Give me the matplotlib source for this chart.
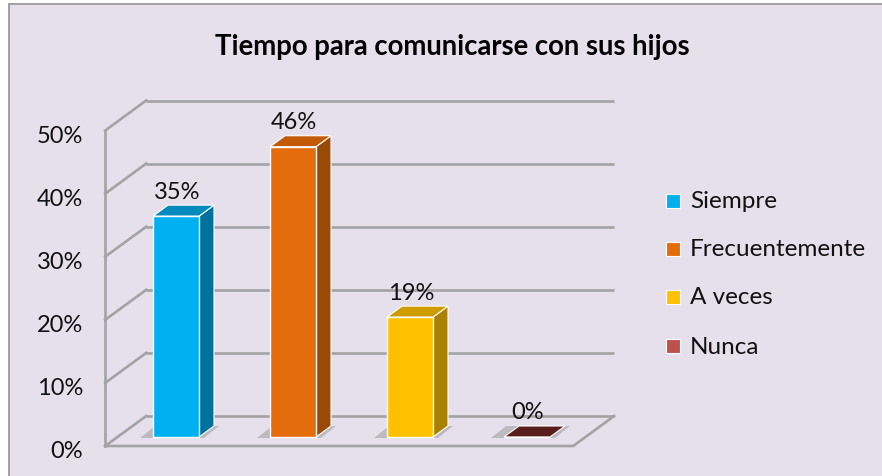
import matplotlib
matplotlib.use("Agg")
import matplotlib.pyplot as plt
from matplotlib.patches import Polygon, Rectangle
from matplotlib.lines import Line2D

# ---- data ----
categories = ["Siempre", "Frecuentemente", "A veces", "Nunca"]
values = [35, 46, 19, 0]
value_labels = ["35%", "46%", "19%", "0%"]
tick_values = [0, 10, 20, 30, 40, 50]
tick_labels = ["0%", "10%", "20%", "30%", "40%", "50%"]
title = "Tiempo para comunicarse con sus hijos"

front_colors = ["#00b0f0", "#e46c0a", "#ffc000", "#c0504d"]
side_colors = ["#00719c", "#994a06", "#a98000", "#5a1e1e"]
top_colors = ["#0089bd", "#c25a08", "#cf9c00", "#5a1e1e"]

W, H = 882, 477
fig = plt.figure(figsize=(W / 100, H / 100), dpi=100)
fig.patch.set_facecolor("white")
plt.rcParams["font.family"] = ["Lato", "DejaVu Sans"]

# chart area background + border
bg = Rectangle((9 / W, -0.05), 1.1, 1 - 5 / H + 0.05, transform=fig.transFigure,
               facecolor="#e5e0ec", edgecolor="#a0a0a0", lw=1.4, zorder=-5)
fig.patches.append(bg)

# axes mapping: x in category units, y in percent (bar plane)
px_cat = 117.0
px_pct = 6.31
x0_px, y0_px = 176.0, 438.0
ax = fig.add_axes([0, 0, 1, 1])
ax.set_zorder(1)
ax.set_xlim(-x0_px / px_cat, (W - x0_px) / px_cat)
ax.set_ylim(-(H - y0_px) / px_pct, y0_px / px_pct)
ax.set_axis_off()
ax.patch.set_alpha(0)

def dx(p):
    return p / px_cat

def dy(p):
    return p / px_pct

# depth offsets
dxF, dyF = dx(-12.3), -dy(9)
dxB, dyB = dx(28.7), dy(21)
dxD, dyD = dx(15), dy(11)
xL, xR = -0.5, len(categories) - 0.5
bw = dx(46)

grid_c = "#a3a3a3"
glw = 1.9
for g in tick_values:
    ax.add_line(Line2D([xL + dxB, xR + dxB], [g + dyB, g + dyB], color=grid_c, lw=glw,
                       solid_capstyle="butt", zorder=1))
    ax.add_line(Line2D([xL + dxF, xL + dxB], [g + dyF, g + dyB], color=grid_c, lw=glw,
                       zorder=1))
# front-left vertical edge
ax.add_line(Line2D([xL + dxF, xL + dxF], [dyF, tick_values[-1] + dyF], color=grid_c,
                   lw=glw, zorder=1))
# floor front and right edges
ax.add_line(Line2D([xL + dxF, xR + dxF, xR + dxB], [dyF, dyF, dyB], color=grid_c,
                   lw=glw, zorder=1, solid_joinstyle="miter"))

# tick labels at the front edge
for g, t in zip(tick_values, tick_labels):
    ax.text(xL + dxF - dx(22), g + dyF - dy(5), t, ha="right", va="center",
            fontsize=17, color="#111111")

xs = list(range(len(categories)))

# soft shadows on floor
for x in xs:
    l = x - bw / 2 - dx(13)
    r = x + bw / 2 + dx(5)
    ax.add_patch(Polygon([(l, -dy(1)), (r, -dy(1)), (r + dxD, dyD), (l + dxD, dyD)],
                         closed=True, facecolor="#bdb9c1", edgecolor="none", zorder=2))

# front faces
ax.bar(xs, values, width=bw, color=front_colors, edgecolor="white", linewidth=1.0,
       zorder=4)

# sides and tops
for x, v, sc, tc in zip(xs, values, side_colors, top_colors):
    r = x + bw / 2
    l = x - bw / 2
    if v > 0:
        ax.add_patch(Polygon([(r, 0), (r + dxD, dyD), (r + dxD, v + dyD), (r, v)],
                             closed=True, facecolor=sc, edgecolor="white", lw=0.8,
                             zorder=3))
    ax.add_patch(Polygon([(l, v), (r, v), (r + dxD, v + dyD), (l + dxD, v + dyD)],
                         closed=True, facecolor=tc, edgecolor="white", lw=0.8, zorder=3))

# value labels
for x, v, lab in zip(xs, values, value_labels):
    ax.text(x + dx(1), v + dy(25), lab, ha="center", va="center", fontsize=17,
            color="#111111", zorder=5)

# title
fig.text(452 / W, 1 - 47 / H, title, ha="center", va="center", fontsize=19.8,
         fontweight="bold", color="black")

# legend
leg_y = [202, 250, 298, 347]
for lab, c, yy in zip(categories, front_colors, leg_y):
    fig.patches.append(Rectangle((666 / W, 1 - (yy + 7) / H), 14 / W, 14 / H,
                                 transform=fig.transFigure, facecolor=c,
                                 edgecolor="white", lw=0.8, zorder=3))
    fig.text(690 / W, 1 - yy / H, lab, ha="left", va="center", fontsize=17.5,
             color="#111111")

fig.savefig("out.png", dpi=100, facecolor=fig.get_facecolor())
